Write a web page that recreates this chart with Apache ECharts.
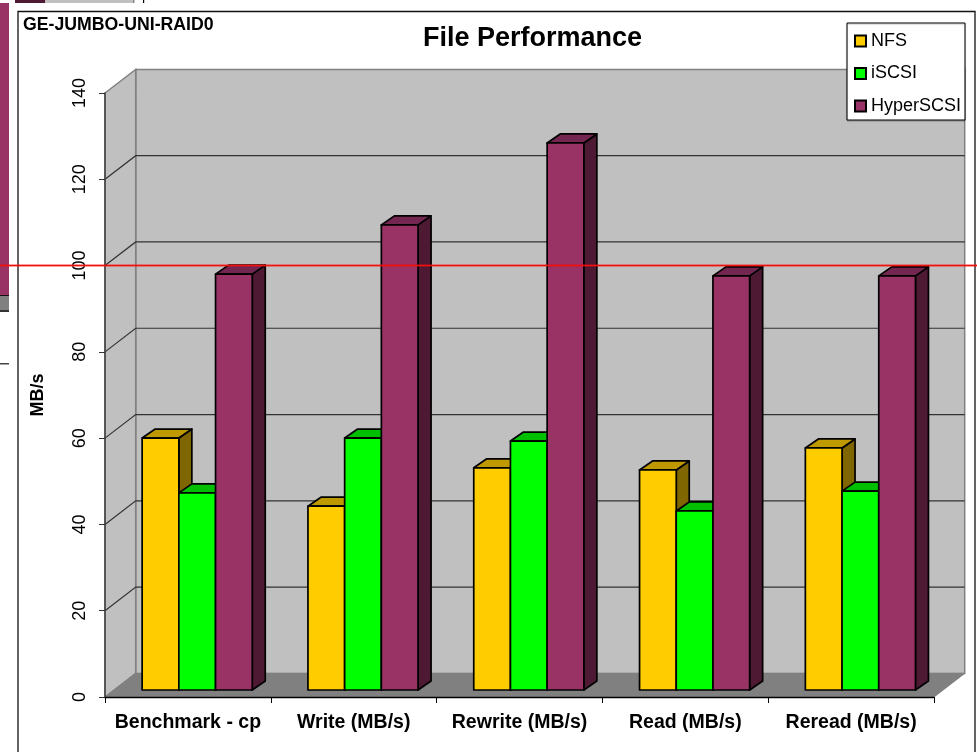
<!DOCTYPE html>
<html><head><meta charset="utf-8">
<style>html,body{margin:0;padding:0;background:#fff}#c{width:977px;height:752px}</style>
<script src="https://cdn.jsdelivr.net/npm/echarts@6/dist/echarts.min.js"></script>
</head><body><div id="c"></div>
<script>
const categories = ['Benchmark - cp','Write (MB/s)','Rewrite (MB/s)','Read (MB/s)','Reread (MB/s)'];
const nfs = [58.4,42.6,51.5,51.0,56.1];
const iscsi = [45.7,58.4,57.7,41.5,46.1];
const hyperscsi = [96.4,107.8,126.8,96.0,96.0];
const yTicks = [0,20,40,60,80,100,120,140];

const FONT = '"Liberation Sans", Arial, sans-serif';
const WALL = {dx:30.7, dy:-23.6};     // depth of the chart box
const BAR_FRONT = {dx:9.3, dy:-7};    // bar front face inside the box
const BAR_DEPTH = {dx:13, dy:-9};     // bar depth
const BAR_W = 36.7;

const chart = echarts.init(document.getElementById('c'), null, {renderer:'canvas'});

function barSeries(name, data, idx, front, top, side){
  return {
    name, type:'custom', z:3,
    coordinateSystem:'cartesian2d',
    clip:false,
    itemStyle:{color:front, borderColor:'#000', borderWidth:1},
    data:data.map((v,i)=>[i,v]),
    encode:{x:0,y:1},
    renderItem(params, api){
      const c = api.coord([api.value(0), api.value(1)]);
      const b = api.coord([api.value(0), 0]);
      const x0 = c[0] + BAR_FRONT.dx + (idx-1.5)*BAR_W;
      const x1 = x0 + BAR_W;
      const yt = c[1] + BAR_FRONT.dy;
      const yb = b[1] + BAR_FRONT.dy;
      const d = BAR_DEPTH;
      const line = {stroke:'#000', lineWidth:1.7, lineJoin:'round'};
      const poly = (points, fill)=>({type:'polygon', shape:{points}, style:Object.assign({fill},line)});
      return {type:'group', children:[
        poly([[x1,yt],[x1+d.dx,yt+d.dy],[x1+d.dx,yb+d.dy],[x1,yb]], side),
        poly([[x0,yt],[x0+d.dx,yt+d.dy],[x1+d.dx,yt+d.dy],[x1,yt]], top),
        poly([[x0,yt],[x1,yt],[x1,yb],[x0,yb]], front)
      ]};
    }
  };
}

const boxSeries = {
  type:'custom', name:'box', z:1, silent:true, clip:false,
  coordinateSystem:'cartesian2d',
  data:yTicks.map(v=>[0,v]),
  encode:{x:0,y:1},
  renderItem(params, api){
    const v = api.value(1);
    const w = api.size([1,0])[0];
    const n = categories.length;
    const p = api.coord([0,v]);
    const xL = p[0]-w/2, xR = xL+w*n, y = p[1];
    const kids = [];
    if(params.dataIndex===0){
      const top = api.coord([0,yTicks[yTicks.length-1]])[1];
      const g = '#808080';
      kids.push({type:'polygon',shape:{points:[[xL+WALL.dx,top+WALL.dy],[xR+WALL.dx,top+WALL.dy],[xR+WALL.dx,y+WALL.dy],[xL+WALL.dx,y+WALL.dy]]},style:{fill:'#C0C0C0',stroke:g,lineWidth:1.5}});
      kids.push({type:'polygon',shape:{points:[[xL,top],[xL+WALL.dx,top+WALL.dy],[xL+WALL.dx,y+WALL.dy],[xL,y]]},style:{fill:'#C0C0C0',stroke:g,lineWidth:1.5}});
      kids.push({type:'polygon',shape:{points:[[xL,y],[xL+WALL.dx,y+WALL.dy],[xR+WALL.dx,y+WALL.dy],[xR,y]]},style:{fill:'#808080',stroke:g,lineWidth:1}});
    } else if(v<yTicks[yTicks.length-1]){
      kids.push({type:'polyline',shape:{points:[[xL,y],[xL+WALL.dx,y+WALL.dy],[xR+WALL.dx,y+WALL.dy]]},style:{fill:null,stroke:'#333',lineWidth:1.2}});
    }
    return {type:'group',children:kids};
  }
};

const junk = [
  {type:'rect',shape:{x:0,y:3,width:9,height:292},style:{fill:'#993366'}},
  {type:'rect',shape:{x:0,y:295,width:9,height:1.5},style:{fill:'#111'}},
  {type:'rect',shape:{x:0,y:296,width:9,height:14},style:{fill:'#808080'}},
  {type:'rect',shape:{x:0,y:310,width:9,height:2},style:{fill:'#333'}},
  {type:'rect',shape:{x:0,y:363,width:9,height:1.5},style:{fill:'#444'}},
  {type:'rect',shape:{x:15,y:0,width:30,height:3},style:{fill:'#4D1933'}},
  {type:'rect',shape:{x:45,y:0,width:88,height:3},style:{fill:'#C0C0C0'}},
  {type:'rect',shape:{x:133,y:0,width:1.5,height:3},style:{fill:'#888'}},
  {type:'rect',shape:{x:143,y:0,width:1.2,height:3},style:{fill:'#000'}},
  {type:'rect',z:0,shape:{x:18,y:11.5,width:957,height:760},style:{fill:'#fff',stroke:'#111',lineWidth:1.3}}
];

chart.setOption({
  animation:false,
  backgroundColor:'#fff',
  title:[
    {text:'File Performance',left:527.5,top:20,textAlign:'center',textStyle:{fontFamily:FONT,fontWeight:'bold',fontSize:27,color:'#000'}},
    {text:'GE-JUMBO-UNI-RAID0',left:18,top:11,textStyle:{fontFamily:FONT,fontWeight:'bold',fontSize:17.7,color:'#000'}}
  ],
  legend:{
    orient:'vertical',left:847,top:23,width:118,
    data:['NFS','iSCSI','HyperSCSI'],
    icon:'rect',itemWidth:11,itemHeight:11,itemGap:14.5,
    backgroundColor:'#fff',borderColor:'#000',borderWidth:1,
    padding:[9,4,5,7],
    selectedMode:false,
    textStyle:{fontFamily:FONT,fontSize:18,color:'#000'},
    shadowColor:'rgba(0,0,0,.25)',shadowOffsetY:1,shadowBlur:1
  },
  grid:{left:105,top:93,width:829,height:604,containLabel:false},
  xAxis:{
    type:'category',data:categories,z:4,
    axisLine:{lineStyle:{color:'#000',width:1.3}},
    axisTick:{show:true,length:6,lineStyle:{color:'#000',width:1}},
    axisLabel:{fontFamily:FONT,fontWeight:'bold',fontSize:19.5,color:'#000',margin:16,interval:0}
  },
  yAxis:{
    type:'value',min:0,max:140,interval:20,z:4,
    name:'MB/s',nameLocation:'middle',nameRotate:90,nameGap:58,
    nameTextStyle:{fontFamily:FONT,fontWeight:'bold',fontSize:18,color:'#000'},
    axisLine:{show:true,lineStyle:{color:'#404040',width:1.5}},
    axisTick:{show:true,length:6,lineStyle:{color:'#333',width:1}},
    splitLine:{show:false},
    axisLabel:{fontFamily:FONT,fontSize:18,color:'#000',rotate:90,margin:16,formatter:v=>String(v)}
  },
  graphic:[
    ...junk.map(e=>Object.assign({silent:true,z:-10},e)),
    {type:'rect',silent:true,z:100,shape:{x:0,y:264.3,width:977,height:2.4},style:{fill:'rgba(255,0,0,.25)'}},
    {type:'line',silent:true,z:101,shape:{x1:0,y1:265.5,x2:977,y2:265.5},style:{stroke:'#f01010',lineWidth:1.4}}
  ],
  series:[
    boxSeries,
    barSeries('NFS',nfs,0,'#FFCC00','#BF9900','#806600'),
    barSeries('iSCSI',iscsi,1,'#00FF00','#00BF00','#008000'),
    barSeries('HyperSCSI',hyperscsi,2,'#993366','#732650','#4D1933')
  ]
});
</script></body></html>
